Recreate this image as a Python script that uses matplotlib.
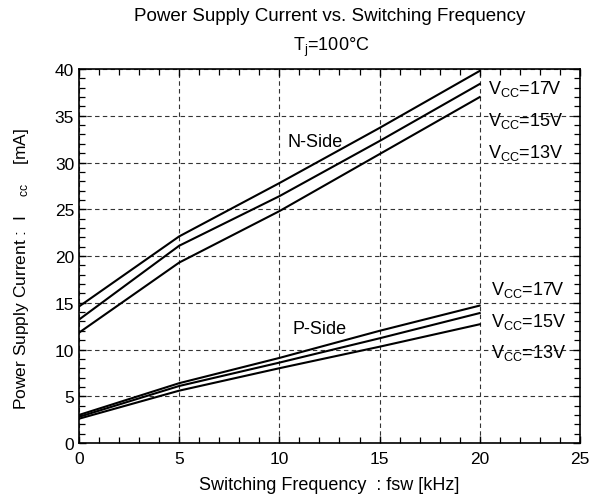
import numpy as np
import matplotlib as mpl
mpl.use('agg')
import matplotlib.pyplot as plt
from matplotlib.ticker import MultipleLocator

plt.rcParams['font.family'] = ['Liberation Sans', 'DejaVu Sans']
plt.rcParams['mathtext.default'] = 'regular'

fsw = np.array([0, 5, 10, 15, 20])

# N-side supply current [mA]
n_17v = np.array([14.6, 22.1, 27.8, 33.7, 39.8])
n_15v = np.array([13.2, 21.1, 26.4, 32.3, 38.4])
n_13v = np.array([11.8, 19.3, 24.8, 30.9, 37.0])

# P-side supply current [mA]
p_17v = np.array([3.0, 6.4, 9.1, 12.0, 14.7])
p_15v = np.array([2.8, 6.1, 8.6, 11.2, 13.9])
p_13v = np.array([2.6, 5.6, 8.0, 10.3, 12.7])

vcc_labels = ['17V', '15V', '13V']
n_label_y = [38.0, 34.5, 31.1]
p_label_y = [16.5, 13.0, 9.7]

fig = plt.figure(figsize=(5.9, 5.02), dpi=100)
ax = fig.add_axes([0.1339, 0.1155, 0.849, 0.745])

for y in (n_17v, n_15v, n_13v, p_17v, p_15v, p_13v):
    ax.plot(fsw, y, '-', color='black', lw=1.5, zorder=5)

ax.set_xlim(0, 25)
ax.set_ylim(0, 40)
ax.xaxis.set_major_locator(MultipleLocator(5))
ax.xaxis.set_minor_locator(MultipleLocator(1))
ax.yaxis.set_major_locator(MultipleLocator(5))
ax.yaxis.set_minor_locator(MultipleLocator(1))
ax.tick_params(which='both', direction='in', top=True, right=True,
               labelsize=12.5, colors='black')
ax.tick_params(which='major', length=5, width=1)
ax.tick_params(which='minor', length=4, width=0.9)
ax.tick_params(axis='x', pad=6)
ax.grid(True, which='major', ls=(0, (4, 3)), color='#333333', lw=0.8)
for s in ax.spines.values():
    s.set_linewidth(1.2)

fs = 13
ax.text(10.4, 32.3, 'N-Side', fontsize=fs, va='center', ha='left')
ax.text(10.65, 12.3, 'P-Side', fontsize=fs, va='center', ha='left')
for lab, yn, yp in zip(vcc_labels, n_label_y, p_label_y):
    ax.text(20.4, yn, 'V$_{CC}$=' + lab, fontsize=fs, va='center', ha='left')
    ax.text(20.55, yp, 'V$_{CC}$=' + lab, fontsize=fs, va='center', ha='left')

fig.text(0.558, 0.967, 'Power Supply Current vs. Switching Frequency',
         fontsize=13.5, ha='center', va='center')
fig.text(0.561, 0.906, 'T$_{j}$=100°C', fontsize=13, ha='center', va='center')

ax.set_xlabel('Switching Frequency  : fsw [kHz]', fontsize=13, labelpad=7)
ax.set_ylabel('Power Supply Current :  I    $_{cc}$    [mA]', fontsize=12.5)
ax.yaxis.set_label_coords(-0.096, 0.469)

plt.savefig('out.png', dpi=100)
